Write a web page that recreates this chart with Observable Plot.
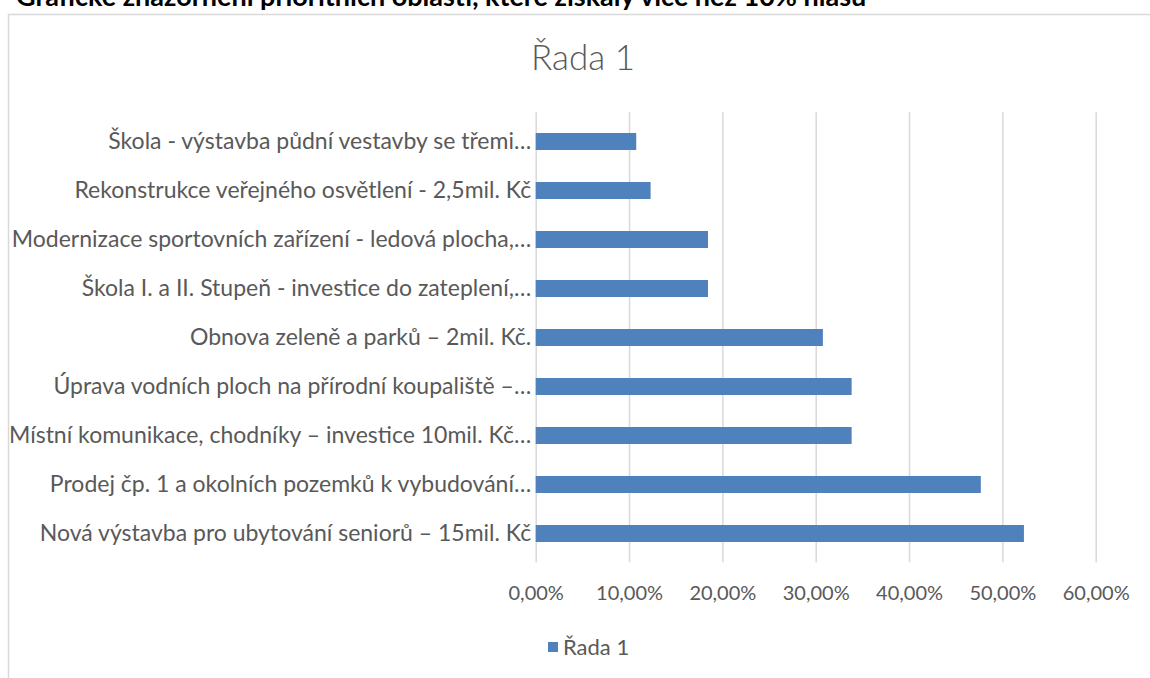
<!DOCTYPE html>
<html>
<head>
<meta charset="utf-8">
<script src="https://cdn.jsdelivr.net/npm/d3@7"></script>
<script src="https://cdn.jsdelivr.net/npm/@observablehq/plot@0.6"></script>
<style>
  html, body { margin: 0; padding: 0; background: #fff; }
  #chart { width: 1150px; height: 678px; overflow: hidden; position: relative; }
</style>
</head>
<body>
<div id="chart"></div>
<script>
const pageTitle = "Grafické znázornění prioritních oblastí, které získaly více než 10% hlasů";
const chartTitle = "Řada 1";
const seriesName = "Řada 1";
const categories = [
  "Škola - výstavba půdní vestavby se třemi…",
  "Rekonstrukce veřejného osvětlení - 2,5mil. Kč",
  "Modernizace sportovních zařízení - ledová plocha,…",
  "Škola I. a II. Stupeň - investice do zateplení,…",
  "Obnova zeleně a parků – 2mil. Kč.",
  "Úprava vodních ploch na přírodní koupaliště –…",
  "Místní komunikace, chodníky – investice 10mil. Kč…",
  "Prodej čp. 1 a okolních pozemků k vybudování…",
  "Nová výstavba pro ubytování seniorů – 15mil. Kč"
];
const values = [10.77, 12.31, 18.46, 18.46, 30.77, 33.85, 33.85, 47.69, 52.31];
const xTicks = [0, 10, 20, 30, 40, 50, 60];

const data = categories.map((c, i) => ({category: c, value: values[i]}));
const fmt = d => d.toFixed(2).replace(".", ",") + "%";
const FONT = "Lato, 'Open Sans', sans-serif";
const TEXT = "#595959";
const BLUE = "#4f81bd";
const GRID = "#d9d9d9";

const W = 1150, H = 678;
const plot = Plot.plot({
  width: W,
  height: H,
  marginLeft: 535.7,
  marginRight: 54.3,
  marginTop: 112.3,
  marginBottom: 115.7,
  style: {fontFamily: FONT, fontSize: "20px", color: TEXT, background: "transparent", overflow: "visible"},
  x: {domain: [0, 60], label: null},
  y: {domain: categories, paddingInner: 0.65, paddingOuter: 0.325, label: null},
  marks: [
    Plot.gridX(xTicks, {stroke: GRID, strokeOpacity: 1, strokeWidth: 1.5}),
    Plot.barX(data, {x: "value", y: "category", fill: BLUE}),
    Plot.axisX({ticks: xTicks, tickFormat: fmt, tickSize: 0, tickPadding: 23, fontSize: 20, fill: TEXT}),
    Plot.axisY({tickSize: 0, tickPadding: 5, fontSize: 23, fill: TEXT, textOverflow: null, lineWidth: Infinity})
  ]
});

const svg = d3.select(plot);
// chart box border
svg.insert("rect", ":first-child")
  .attr("x", 8.5).attr("y", 14.5).attr("width", 1300).attr("height", 800)
  .attr("fill", "none").attr("stroke", GRID).attr("stroke-width", 1.5);

// page heading (cut off at the top, as in the reference)
svg.append("text")
  .attr("x", 16).attr("y", 6).attr("text-anchor", "start")
  .attr("font-family", FONT).attr("font-weight", "bold").attr("font-size", 27)
  .attr("fill", "#000").text(pageTitle);

// chart title
svg.append("text")
  .attr("x", 583).attr("y", 70).attr("text-anchor", "middle")
  .attr("font-family", FONT).attr("font-weight", 300).attr("font-size", 35)
  .attr("fill", TEXT).text(chartTitle);

// legend
svg.append("rect").attr("x", 548).attr("y", 642).attr("width", 10).attr("height", 10).attr("fill", BLUE);
svg.append("text")
  .attr("x", 563).attr("y", 647).attr("dy", "0.35em").attr("text-anchor", "start")
  .attr("font-family", FONT).attr("font-size", 22)
  .attr("fill", TEXT).text(seriesName);

document.getElementById("chart").appendChild(plot);
</script>
</body>
</html>
